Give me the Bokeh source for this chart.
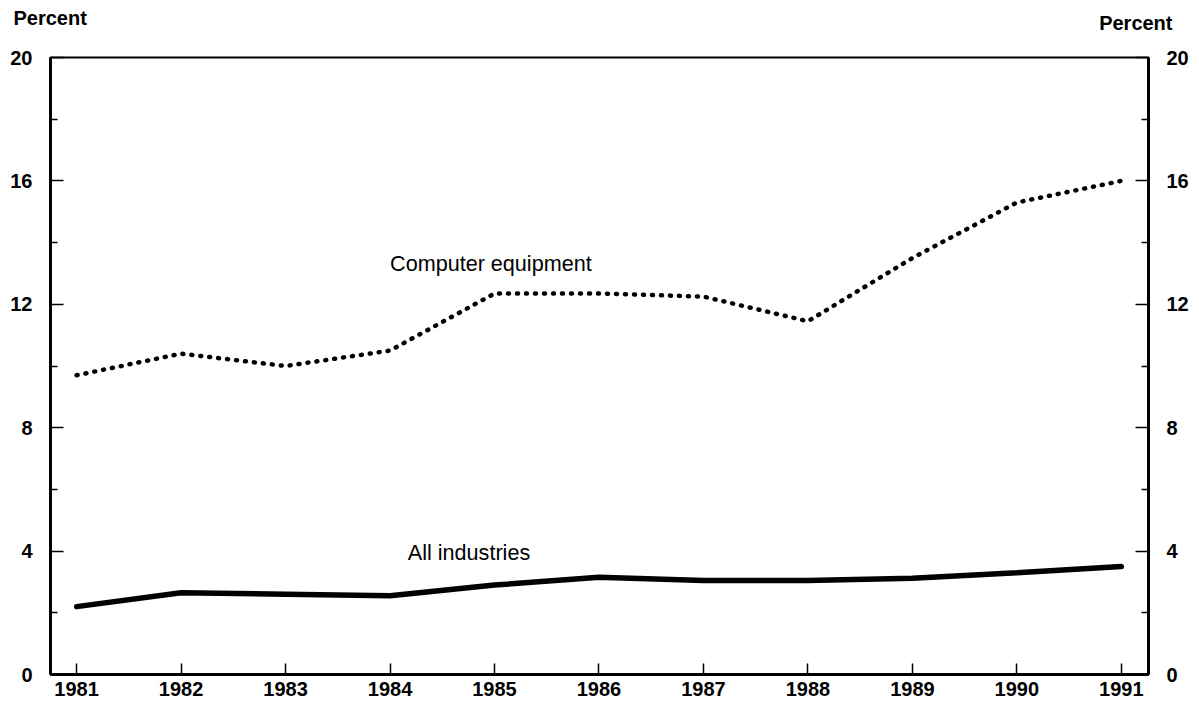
from bokeh.plotting import figure
from bokeh.models import Range1d, LinearAxis, FixedTicker, Label
from bokeh.core.properties import value
from bokeh.embed import file_html
from bokeh.resources import INLINE

years = [1981, 1982, 1983, 1984, 1985, 1986, 1987, 1988, 1989, 1990, 1991]
computer_equipment = [9.7, 10.4, 10.0, 10.5, 12.35, 12.35, 12.25, 11.45, 13.5, 15.3, 16.0]
all_industries = [2.2, 2.65, 2.6, 2.55, 2.9, 3.15, 3.05, 3.05, 3.12, 3.3, 3.5]
y_major = [0, 4, 8, 12, 16, 20]
y_minor = [2, 6, 10, 14, 18]
unit_labels = ["Percent", "Percent"]

FONT = "Liberation Sans"
W = 1199
TOP_H = 40

# header strip carrying the two "Percent" unit labels
top = figure(width=W, height=TOP_H, output_backend="svg", toolbar_location=None,
             x_range=Range1d(0, W), y_range=Range1d(TOP_H, 0),
             min_border=0, outline_line_color=None)
top.axis.visible = False
top.grid.visible = False
top.text(x=[13], y=[17], text=[unit_labels[0]], text_font=value(FONT),
         text_font_style="bold", text_font_size="20px", text_align="left",
         text_baseline="middle", text_color="black")
top.text(x=[1172], y=[22], text=[unit_labels[1]], text_font=value(FONT),
         text_font_style="bold", text_font_size="20px", text_align="right",
         text_baseline="middle", text_color="black")

p = figure(width=W, height=668, output_backend="svg", toolbar_location=None,
           x_range=Range1d(1980.75, 1991.26), y_range=Range1d(0, 20),
           min_border_left=50, min_border_right=51, min_border_top=17, min_border_bottom=34)
p.xgrid.visible = False
p.ygrid.visible = False
p.outline_line_color = "black"
p.outline_line_width = 2
p.outline_line_alpha = 1.0
p.background_fill_color = "white"
p.border_fill_color = "white"

def style_y(ax, standoff):
    ax.ticker = FixedTicker(ticks=y_major, minor_ticks=y_minor)
    ax.axis_line_width = 3
    ax.axis_line_color = "black"
    ax.major_tick_in = 13
    ax.major_tick_out = 0
    ax.minor_tick_in = 7
    ax.minor_tick_out = 0
    ax.major_tick_line_width = 1.5
    ax.minor_tick_line_width = 1.5
    ax.major_tick_line_color = "black"
    ax.minor_tick_line_color = "black"
    ax.major_label_text_font = FONT
    ax.major_label_text_font_style = "bold"
    ax.major_label_text_font_size = "20px"
    ax.major_label_text_color = "black"
    ax.major_label_standoff = standoff

style_y(p.yaxis[0], 18)
right = LinearAxis()
style_y(right, 18)
p.add_layout(right, "right")

xa = p.xaxis[0]
xa.ticker = FixedTicker(ticks=years, minor_ticks=[])
xa.axis_line_width = 3
xa.axis_line_color = "black"
xa.major_tick_in = 11
xa.major_tick_out = 0
xa.major_tick_line_width = 1.5
xa.major_tick_line_color = "black"
xa.major_label_text_font = FONT
xa.major_label_text_font_style = "bold"
xa.major_label_text_font_size = "20px"
xa.major_label_text_color = "black"
xa.major_label_standoff = 7

p.line(years, computer_equipment, line_color="black", line_width=4.5,
       line_dash="1 8", line_cap="round")
p.line(years, all_industries, line_color="black", line_width=5.5, line_cap="round")

p.add_layout(Label(x=1984.0, y=13.33, text="Computer equipment", text_font=FONT,
                   text_font_size="21.6px", text_color="black", text_align="left",
                   text_baseline="alphabetic"))
p.add_layout(Label(x=1984.17, y=3.97, text="All industries", text_font=FONT,
                   text_font_size="21.6px", text_color="black", text_align="left",
                   text_baseline="alphabetic"))

open("out.html", "w").write(file_html([top, p], INLINE))
